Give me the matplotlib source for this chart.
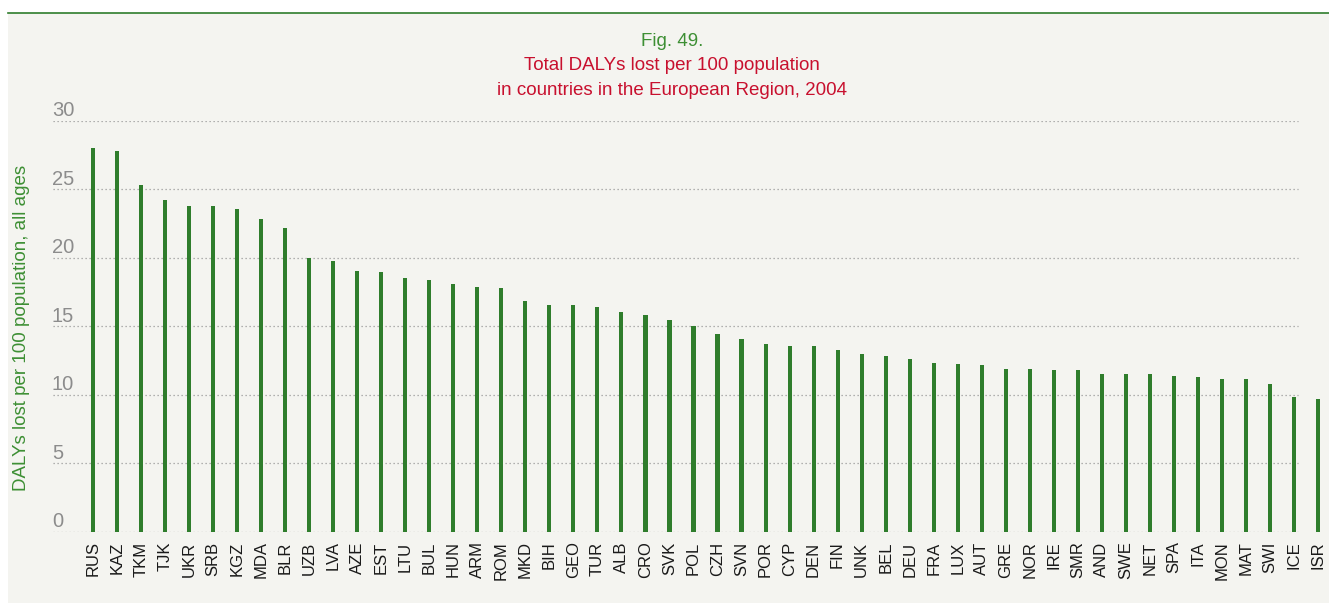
import matplotlib
matplotlib.use("Agg")
import matplotlib.pyplot as plt
from matplotlib.patches import Rectangle
from matplotlib.lines import Line2D
from matplotlib.transforms import offset_copy

# DALYs lost per 100 population, all ages, 2004
countries = ['RUS', 'KAZ', 'TKM', 'TJK', 'UKR', 'SRB', 'KGZ', 'MDA', 'BLR', 'UZB',
             'LVA', 'AZE', 'EST', 'LTU', 'BUL', 'HUN', 'ARM', 'ROM', 'MKD', 'BIH',
             'GEO', 'TUR', 'ALB', 'CRO', 'SVK', 'POL', 'CZH', 'SVN', 'POR', 'CYP',
             'DEN', 'FIN', 'UNK', 'BEL', 'DEU', 'FRA', 'LUX', 'AUT', 'GRE', 'NOR',
             'IRE', 'SMR', 'AND', 'SWE', 'NET', 'SPA', 'ITA', 'MON', 'MAT', 'SWI',
             'ICE', 'ISR']
dalys = [28.0, 27.8, 25.3, 24.2, 23.8, 23.75, 23.55, 22.8, 22.2, 20.0,
         19.75, 19.05, 18.95, 18.5, 18.4, 18.05, 17.85, 17.8, 16.85, 16.55,
         16.55, 16.4, 16.05, 15.8, 15.45, 15.05, 14.4, 14.05, 13.7, 13.55,
         13.55, 13.25, 12.95, 12.85, 12.6, 12.3, 12.25, 12.2, 11.85, 11.85,
         11.8, 11.8, 11.5, 11.5, 11.5, 11.4, 11.3, 11.15, 11.15, 10.75,
         9.85, 9.7]
y_ticks = [0, 5, 10, 15, 20, 25, 30]

BAR_GREEN = '#2f7d2c'
TEXT_GREEN = '#3d8f34'
TITLE_RED = '#c8102e'
PANEL = '#f4f4f0'
GRID_GREY = '#9a9a9a'

plt.rcParams['font.family'] = ['Liberation Sans', 'DejaVu Sans']

W, H = 1329, 603
fig = plt.figure(figsize=(W / 100, H / 100), dpi=100)
fig.patch.set_facecolor('white')

# shaded panel and green rule along its top
fig.patches.append(Rectangle((8 / W, 0), 1 - 8 / W, (H - 13) / H,
                             transform=fig.transFigure, facecolor=PANEL,
                             edgecolor='none', zorder=-5))
fig.lines.append(Line2D([8 / W, 1], [(H - 12.5) / H] * 2, transform=fig.transFigure,
                        color=BAR_GREEN, linewidth=1.2, zorder=-4))

# axes placement in pixels
x_left, x_right = 53, 1329
y_bottom, y_top = 531.7, 120.7
first_bar, step = 93, 24.02

ax = fig.add_axes([x_left / W, (H - y_bottom) / H,
                   (x_right - x_left) / W, (y_bottom - y_top) / H])
ax.set_facecolor('none')
ax.set_xlim((x_left - first_bar) / step, (x_right - first_bar) / step)
ax.set_ylim(0, 30)
for s in ax.spines.values():
    s.set_visible(False)

# dotted gridlines stop just past ICE
grid_end = (1298 - first_bar) / step
ax.hlines(y_ticks, ax.get_xlim()[0], grid_end, colors=GRID_GREY,
          linestyles=(0, (1, 2.2)), linewidth=0.9, zorder=1)

x = list(range(len(countries)))
ax.bar(x, dalys, width=0.17, color=BAR_GREEN, zorder=2)

ax.set_yticks([])
ax.set_xticks(x)
ax.set_xticklabels(countries, rotation=90, fontsize=12, color='#1a1a1a')
ax.tick_params(axis='x', length=0, pad=7)

# y values sit above their gridlines
lab_tr = offset_copy(ax.transData, fig=fig, x=0, y=4.5, units='dots')
for v in y_ticks:
    ax.text(ax.get_xlim()[0] - 0.05, v, str(v), transform=lab_tr, ha='left',
            va='baseline', fontsize=14.5, color='#8c8c8c', clip_on=False)

fig.text(22 / W, (H - 328) / H, 'DALYs lost per 100 population, all ages',
         rotation=90, ha='center', va='center', fontsize=13.5, color=TEXT_GREEN)

fig.text(672 / W, (H - 41.5) / H, 'Fig. 49.', ha='center', va='center',
         fontsize=13.5, color=TEXT_GREEN)
fig.text(672 / W, (H - 66) / H, 'Total DALYs lost per 100 population',
         ha='center', va='center', fontsize=13.5, color=TITLE_RED)
fig.text(672 / W, (H - 90.5) / H, 'in countries in the European Region, 2004',
         ha='center', va='center', fontsize=13.5, color=TITLE_RED)

fig.savefig('out.png', dpi=100, facecolor=fig.get_facecolor())
